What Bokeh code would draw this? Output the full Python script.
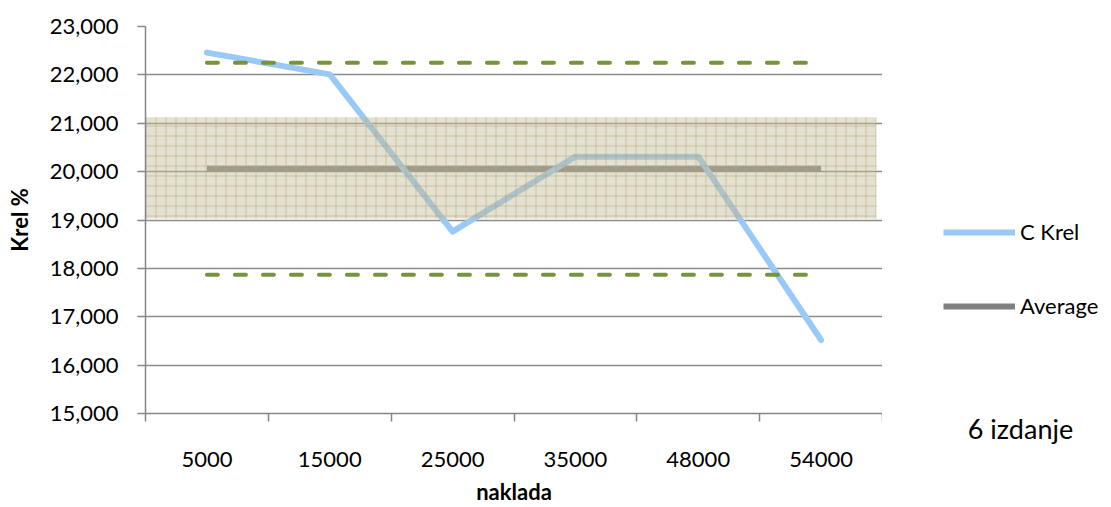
from bokeh.plotting import figure
from bokeh.layouts import row
from bokeh.models import (Range1d, FixedTicker, SingleIntervalTicker, NumeralTickFormatter,
                          Legend, LegendItem)
from bokeh.embed import file_html
from bokeh.resources import INLINE

# ---- data ----
categories = ["5000", "15000", "25000", "35000", "48000", "54000"]
c_krel = [22460, 22010, 18760, 20310, 20310, 16520]
average = [20060, 20060, 20060, 20060, 20060, 20060]
upper_limit = [22250, 22250, 22250, 22250, 22250, 22250]
lower_limit = [17870, 17870, 17870, 17870, 17870, 17870]
band_low = [19030]
band_high = [21125]
y_min, y_max, y_step = 15000, 23000, 1000
note = "6 izdanje"

FONT = "Lato"
AX = "#868686"
BLUE = "#99C9F7"
GRAY = "#808080"
GREEN = "#77933C"
H = 507

n = len(categories)
xpos = [i + 0.5 for i in range(n)]          # category centres on a 0..n axis
bounds = list(range(n + 1))                  # category boundaries

p = figure(x_range=Range1d(0, n), y_range=Range1d(y_min, y_max),
           width=882, height=H, min_border_left=145, min_border_right=0,
           min_border_top=26, min_border_bottom=80,
           output_backend="svg", toolbar_location=None)
p.outline_line_color = None
p.background_fill_color = "white"

# y axis
yax = p.yaxis[0]
yax.ticker = SingleIntervalTicker(interval=y_step, num_minor_ticks=0)
yax.formatter = NumeralTickFormatter(format="0,0")
yax.axis_line_color = AX
yax.axis_line_width = 1.5
yax.major_tick_line_color = AX
yax.major_tick_line_width = 1.5
yax.major_tick_out = 8
yax.major_tick_in = 0
yax.minor_tick_out = 0
yax.minor_tick_in = 0
yax.major_label_standoff = 19
yax.major_label_text_font = FONT
yax.major_label_text_font_size = "22px"
yax.major_label_text_color = "black"
yax.axis_label = "Krel %"
yax.axis_label_text_font = FONT
yax.axis_label_text_font_style = "bold"
yax.axis_label_text_font_size = "22px"
yax.axis_label_text_color = "black"
yax.axis_label_standoff = 14

p.ygrid.ticker = yax.ticker
p.ygrid.grid_line_color = "#8C8C8C"
p.ygrid.grid_line_width = 1.5
p.xgrid.visible = False

# x axis: labels at category centres, tick marks at boundaries
xax = p.xaxis[0]
xax.ticker = FixedTicker(ticks=xpos, minor_ticks=bounds)
xax.major_label_overrides = {x: c for x, c in zip(xpos, categories)}
xax.axis_line_color = AX
xax.axis_line_width = 1.5
xax.major_tick_line_color = None
xax.major_tick_out = 0
xax.major_tick_in = 0
xax.minor_tick_line_color = AX
xax.minor_tick_line_width = 1.5
xax.minor_tick_out = 8
xax.minor_tick_in = 0
xax.major_label_standoff = 30
xax.major_label_text_font = FONT
xax.major_label_text_font_size = "22px"
xax.major_label_text_color = "black"
xax.axis_label = "naklada"
xax.axis_label_text_font = FONT
xax.axis_label_text_font_style = "bold"
xax.axis_label_text_font_size = "22px"
xax.axis_label_text_color = "black"
xax.axis_label_standoff = 8

# series
p.line(xpos, average, line_color=GRAY, line_width=6)
p.line(xpos, c_krel, line_color=BLUE, line_width=6, line_join="round", line_cap="round")
p.line(xpos, upper_limit, line_color=GREEN, line_width=4, line_dash="11 17", line_cap="round")
p.line(xpos, lower_limit, line_color=GREEN, line_width=4, line_dash="11 17", line_cap="round")

# shaded band on top
p.quad(left=[bounds[0]], right=[bounds[-1] - 0.05],
       bottom=band_low, top=band_high,
       fill_color="#C4BC96", fill_alpha=0.45, line_color=None,
       hatch_pattern="+", hatch_color="#B0A878", hatch_alpha=0.55,
       hatch_scale=10, hatch_weight=1)

# ---- right-hand side: legend and note ----
q = figure(x_range=Range1d(0, 1), y_range=Range1d(0, 1), width=1108 - 882, height=H,
           y_axis_location=None, min_border_left=50, min_border_right=0,
           min_border_top=26, min_border_bottom=80,
           output_backend="svg", toolbar_location=None)
q.outline_line_color = None
q.grid.visible = False
qax = q.xaxis[0]
qax.ticker = FixedTicker(ticks=[])
qax.axis_line_color = None
qax.major_tick_line_color = None
qax.minor_tick_line_color = None
qax.major_label_standoff = 0
qax.axis_label = note
qax.axis_label_text_font = FONT
qax.axis_label_text_font_style = "normal"
qax.axis_label_text_font_size = "27px"
qax.axis_label_text_color = "black"
qax.axis_label_standoff = -2

nan = float("nan")
k_c = q.line([nan], [nan], line_color=BLUE, line_width=6)
k_avg = q.line([nan], [nan], line_color=GRAY, line_width=6)
legend = Legend(items=[LegendItem(label="C Krel", renderers=[k_c]),
                       LegendItem(label="Average", renderers=[k_avg])],
                location=(11, 413 - 319), glyph_width=72, glyph_height=26,
                label_standoff=5, spacing=47, padding=0, margin=0,
                border_line_color=None, background_fill_alpha=0,
                label_text_font=FONT, label_text_font_size="22px",
                label_text_color="black")
q.add_layout(legend)

open("out.html", "w").write(file_html(row(p, q), INLINE))
